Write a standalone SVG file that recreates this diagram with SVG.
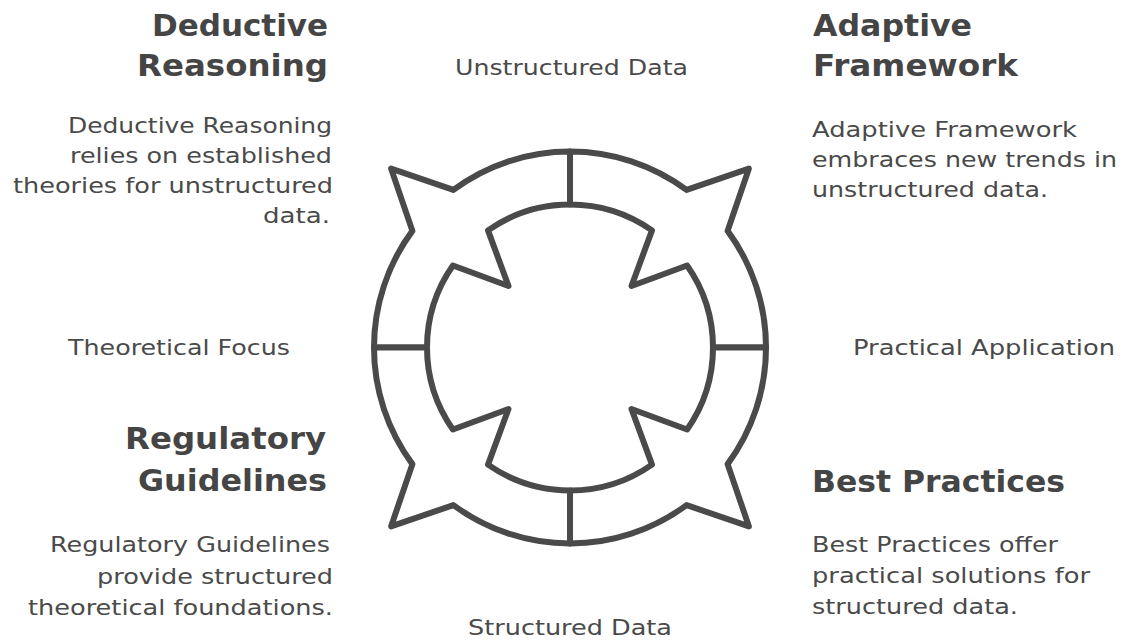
<svg xmlns="http://www.w3.org/2000/svg" width="1126" height="641" viewBox="0 0 1126 641">
<style>
.q{fill:#fff;stroke:#4a4a4a;stroke-width:6;stroke-linejoin:round;stroke-linecap:round}
.t{font-family:"DejaVu Sans","Liberation Sans",sans-serif;font-weight:bold;font-size:30px;fill:#454545}
.b{font-family:"DejaVu Sans","Liberation Sans",sans-serif;font-size:21px;fill:#4a4a4a}
</style>
<defs>
<path id="quad" d="M 374 347.5 A 196 196 0 0 1 412.4 230.9 L 391.1 168.6 L 453.4 189.9 A 196 196 0 0 1 570 151.5 L 570 204.5 A 143 143 0 0 0 488 230.4 L 508.5 286 L 452.9 265.5 A 143 143 0 0 0 427 347.5 Z"/>
</defs>
<rect width="1126" height="641" fill="#fff"/>
<g id="connectors"></g>
<g id="wheel">
<g id="quad-tl"><use href="#quad" class="q"/></g>
<g id="quad-tr"><use href="#quad" class="q" transform="rotate(90 570 347.5)"/></g>
<g id="quad-br"><use href="#quad" class="q" transform="rotate(180 570 347.5)"/></g>
<g id="quad-bl"><use href="#quad" class="q" transform="rotate(270 570 347.5)"/></g>
</g>
<g id="axis-labels">
<text class="b" x="455" y="75" textLength="233" lengthAdjust="spacingAndGlyphs">Unstructured Data</text>
<text class="b" x="68" y="355" textLength="222" lengthAdjust="spacingAndGlyphs">Theoretical Focus</text>
<text class="b" x="853" y="355" textLength="262" lengthAdjust="spacingAndGlyphs">Practical Application</text>
<text class="b" x="468" y="635" textLength="204" lengthAdjust="spacingAndGlyphs">Structured Data</text>
</g>
<g id="deductive-reasoning">
<text class="t" x="152" y="36" textLength="176" lengthAdjust="spacingAndGlyphs">Deductive</text>
<text class="t" x="137" y="76" textLength="191" lengthAdjust="spacingAndGlyphs">Reasoning</text>
<text class="b" x="68" y="133" textLength="264" lengthAdjust="spacingAndGlyphs">Deductive Reasoning</text>
<text class="b" x="70" y="163" textLength="262" lengthAdjust="spacingAndGlyphs">relies on established</text>
<text class="b" x="13" y="193" textLength="320" lengthAdjust="spacingAndGlyphs">theories for unstructured</text>
<text class="b" x="263" y="223" textLength="67" lengthAdjust="spacingAndGlyphs">data.</text>
</g>
<g id="adaptive-framework">
<text class="t" x="813" y="36" textLength="159" lengthAdjust="spacingAndGlyphs">Adaptive</text>
<text class="t" x="813" y="76" textLength="205" lengthAdjust="spacingAndGlyphs">Framework</text>
<text class="b" x="812" y="137" textLength="265" lengthAdjust="spacingAndGlyphs">Adaptive Framework</text>
<text class="b" x="812" y="167" textLength="305" lengthAdjust="spacingAndGlyphs">embraces new trends in</text>
<text class="b" x="812" y="197" textLength="236" lengthAdjust="spacingAndGlyphs">unstructured data.</text>
</g>
<g id="regulatory-guidelines">
<text class="t" x="125" y="449" textLength="201" lengthAdjust="spacingAndGlyphs">Regulatory</text>
<text class="t" x="138" y="491" textLength="189" lengthAdjust="spacingAndGlyphs">Guidelines</text>
<text class="b" x="50" y="552" textLength="280" lengthAdjust="spacingAndGlyphs">Regulatory Guidelines</text>
<text class="b" x="97" y="584" textLength="236" lengthAdjust="spacingAndGlyphs">provide structured</text>
<text class="b" x="28" y="615" textLength="305" lengthAdjust="spacingAndGlyphs">theoretical foundations.</text>
</g>
<g id="best-practices">
<text class="t" x="812" y="492" textLength="253" lengthAdjust="spacingAndGlyphs">Best Practices</text>
<text class="b" x="812" y="552" textLength="246" lengthAdjust="spacingAndGlyphs">Best Practices offer</text>
<text class="b" x="812" y="583" textLength="278" lengthAdjust="spacingAndGlyphs">practical solutions for</text>
<text class="b" x="812" y="614" textLength="206" lengthAdjust="spacingAndGlyphs">structured data.</text>
</g>
</svg>
